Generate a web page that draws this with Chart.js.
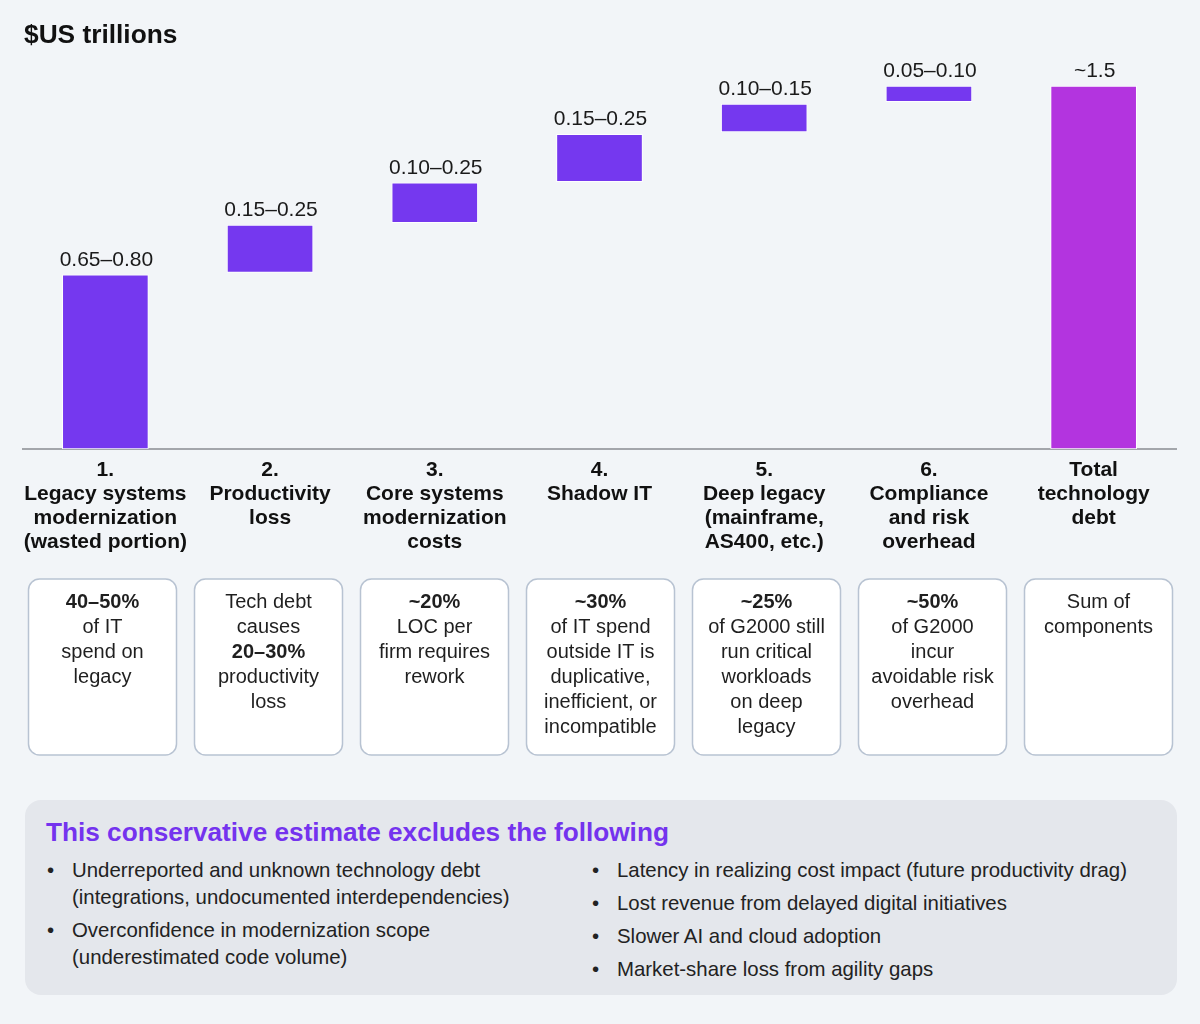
<!DOCTYPE html>
<html>
<head>
<meta charset="utf-8">
<script src="https://cdn.jsdelivr.net/npm/chart.js@4.4.1/dist/chart.umd.min.js"></script>
<style>
  body { margin: 0; background: #F2F5F8; font-family: "Liberation Sans", Arial, Helvetica, sans-serif; }
  #page { position: relative; width: 1200px; height: 1024px; overflow: hidden; }
  #title { position: absolute; left: 24px; top: 19px; font-size: 26.3px; line-height: 30px; font-weight: bold; color: #111; }
  #chart { position: absolute; left: 0; top: 0; }
  #panel { position: absolute; left: 25px; top: 800px; width: 1152px; height: 195px; background: #E4E7EC; border-radius: 16px; }
  #panel-title { position: absolute; left: 21px; top: 17px; font-size: 26.2px; line-height: 30px; font-weight: bold; color: #7433EE; }
  .col { position: absolute; top: 57px; }
  .item { position: relative; font-size: 20.4px; line-height: 27px; color: #222; margin-bottom: 6px; }
  .item::before { content: "•"; position: absolute; left: -25px; }
</style>
</head>
<body>
<div id="page">
  <canvas id="chart" width="1200" height="775"></canvas>
  <div id="title">$US trillions</div>
  <div id="panel">
    <div id="panel-title">This conservative estimate excludes the following</div>
    <div class="col" id="col-left" style="left: 47px;"></div>
    <div class="col" id="col-right" style="left: 592px;"></div>
  </div>
</div>
<script>
const categories = [
    ["1.", "Legacy systems", "modernization", "(wasted portion)"],
    ["2.", "Productivity", "loss"],
    ["3.", "Core systems", "modernization", "costs"],
    ["4.", "Shadow IT"],
    ["5.", "Deep legacy", "(mainframe,", "AS400, etc.)"],
    ["6.", "Compliance", "and risk", "overhead"],
    ["Total", "technology", "debt"]
];

// floating bar ranges ($US trillions)
const barStart = [0, 0.73, 0.935, 1.105, 1.31, 1.435, 0];
const barEnd = [0.72, 0.925, 1.1, 1.3, 1.425, 1.5, 1.5];
const rangeLabels = ["0.65–0.80", "0.15–0.25", "0.10–0.25", "0.15–0.25", "0.10–0.15", "0.05–0.10", "~1.5"];

// note boxes under each category: [text, bold]
const notes = [
    [["40–50%", true], ["of IT"], ["spend on"], ["legacy"]],
    [["Tech debt"], ["causes"], ["20–30%", true], ["productivity"], ["loss"]],
    [["~20%", true], ["LOC per"], ["firm requires"], ["rework"]],
    [["~30%", true], ["of IT spend"], ["outside IT is"], ["duplicative,"], ["inefficient, or"], ["incompatible"]],
    [["~25%", true], ["of G2000 still"], ["run critical"], ["workloads"], ["on deep"], ["legacy"]],
    [["~50%", true], ["of G2000"], ["incur"], ["avoidable risk"], ["overhead"]],
    [["Sum of"], ["components"]]
];

const excludesLeft = [
    "Underreported and unknown technology debt<br>(integrations, undocumented interdependencies)",
    "Overconfidence in modernization scope<br>(underestimated code volume)"
];
const excludesRight = [
    "Latency in realizing cost impact (future productivity drag)",
    "Lost revenue from delayed digital initiatives",
    "Slower AI and cloud adoption",
    "Market-share loss from agility gaps"
];

const fontFamily = '"Liberation Sans", Arial, Helvetica, sans-serif';

function fillList(id, items){
    const col = document.getElementById(id);
    col.innerHTML = items.map(t => `<div class="item">${t}</div>`).join("");
}
fillList("col-left", excludesLeft);
fillList("col-right", excludesRight);

function roundRect(ctx, x, y, w, h, r){
    ctx.beginPath();
    ctx.moveTo(x + r, y);
    ctx.lineTo(x + w - r, y);
    ctx.arcTo(x + w, y, x + w, y + r, r);
    ctx.lineTo(x + w, y + h - r);
    ctx.arcTo(x + w, y + h, x + w - r, y + h, r);
    ctx.lineTo(x + r, y + h);
    ctx.arcTo(x, y + h, x, y + h - r, r);
    ctx.lineTo(x, y + r);
    ctx.arcTo(x, y, x + r, y, r);
    ctx.closePath();
}

const barLabels = {
    id: 'barLabels',
    afterDatasetsDraw(chart){
        const ctx = chart.ctx;
        const meta = chart.getDatasetMeta(0);
        ctx.save();
        ctx.font = '21px ' + fontFamily;
        ctx.fillStyle = '#1a1a1a';
        ctx.textAlign = 'center';
        ctx.textBaseline = 'alphabetic';
        meta.data.forEach((bar, i) => {
            ctx.fillText(rangeLabels[i], bar.x + 1, bar.y - 9);
        });
        ctx.restore();
    }
};

// boxes sit on a slightly wider pitch than the bars
const noteBoxes = {
    id: 'noteBoxes',
    afterDraw(chart){
        const ctx = chart.ctx;
        ctx.save();
        notes.forEach((lines, i) => {
            const cx = 102.5 + i * 166;
            roundRect(ctx, cx - 74, 579, 148, 176, 11);
            ctx.fillStyle = '#ffffff';
            ctx.fill();
            ctx.lineWidth = 1.5;
            ctx.strokeStyle = '#B8C3D2';
            ctx.stroke();
            ctx.fillStyle = '#1f1f1f';
            ctx.textAlign = 'center';
            ctx.textBaseline = 'middle';
            lines.forEach((ln, j) => {
                ctx.font = (ln[1] ? 'bold ' : '') + '20px ' + fontFamily;
                ctx.fillText(ln[0], cx, 602 + j * 25);
            });
        });
        ctx.restore();
    }
};

const barColors = categories.map((c, i) => i === categories.length - 1 ? '#B334DF' : '#7538EF');

new Chart(document.getElementById('chart'), {
    type: 'bar',
    data: {
        labels: categories,
        datasets: [{
            data: barStart.map((s, i) => [s, barEnd[i]]),
            backgroundColor: barColors,
            borderColor: 'rgba(255,255,255,0.9)',
            borderWidth: 1,
            borderSkipped: false,
            barThickness: 86
        }]
    },
    options: {
        responsive: false,
        devicePixelRatio: 1,
        animation: false,
        layout: { padding: { left: 23, right: 24, top: 86, bottom: 0 } },
        plugins: {
            legend: { display: false },
            tooltip: { enabled: false }
        },
        scales: {
            x: {
                grid: { display: false, drawTicks: false },
                border: { display: true, color: '#A3A6AB', width: 2 },
                ticks: {
                    color: '#111',
                    font: { family: fontFamily, size: 21, weight: 'bold', lineHeight: 24 / 21 },
                    padding: 9,
                    autoSkip: false,
                    maxRotation: 0,
                    minRotation: 0
                },
                afterFit(scale){ scale.height = 326; }
            },
            y: {
                display: false,
                min: 0,
                max: 1.5
            }
        }
    },
    plugins: [barLabels, noteBoxes]
});
</script>
</body>
</html>
